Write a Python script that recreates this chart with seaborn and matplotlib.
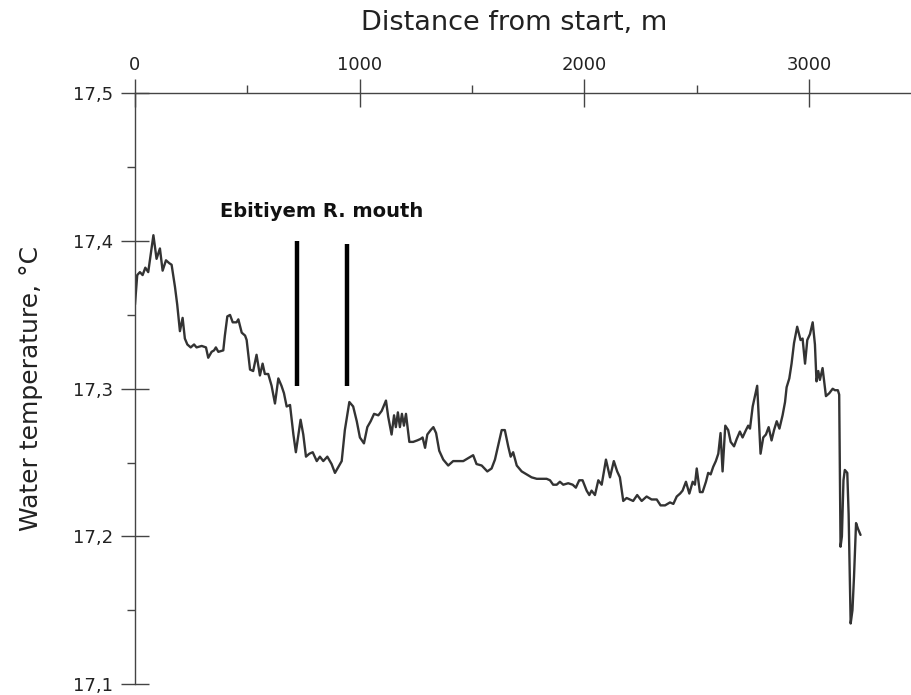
import numpy as np
import pandas as pd
import matplotlib
matplotlib.use("Agg")
import matplotlib.pyplot as plt
from matplotlib.ticker import MultipleLocator, FuncFormatter
import seaborn as sns

# Water temperature along the survey track
distance_m = [
    0, 10, 22, 34, 46, 59, 82, 96, 111, 123, 138, 153, 163, 178, 188, 200, 212, 222, 233, 248,
    263, 274, 297, 316, 326, 341, 352, 360, 371, 393, 400, 411, 423, 435, 452, 460, 475, 490, 497, 512,
    526, 541, 556, 568, 578, 593, 608, 623, 638, 652, 663, 675, 690, 705, 716, 737, 749, 761, 776, 791,
    809, 823, 838, 856, 875, 890, 905, 920, 934, 954, 971, 987, 1001, 1019, 1034, 1049, 1064, 1083, 1098, 1117,
    1127, 1142, 1153, 1161, 1170, 1179, 1188, 1197, 1206, 1221, 1238, 1256, 1271, 1280, 1291, 1301, 1316, 1328, 1340, 1354,
    1372, 1394, 1416, 1439, 1461, 1483, 1505, 1520, 1543, 1568, 1587, 1602, 1617, 1632, 1646, 1661, 1672, 1683, 1699, 1721,
    1743, 1765, 1788, 1810, 1832, 1847, 1861, 1877, 1891, 1906, 1928, 1948, 1962, 1977, 1992, 2010, 2022, 2032, 2047, 2062,
    2077, 2096, 2114, 2131, 2146, 2158, 2173, 2188, 2203, 2217, 2235, 2255, 2277, 2299, 2322, 2339, 2359, 2381, 2396, 2411,
    2426, 2437, 2452, 2467, 2482, 2492, 2500, 2514, 2526, 2541, 2551, 2562, 2573, 2585, 2596, 2606, 2615, 2627, 2640, 2651,
    2666, 2678, 2692, 2704, 2719, 2729, 2737, 2749, 2759, 2769, 2784, 2796, 2808, 2820, 2833, 2844, 2856, 2868, 2882, 2893,
    2900, 2912, 2922, 2933, 2947, 2962, 2971, 2982, 2992, 3004, 3016, 3026, 3033, 3041, 3048, 3060, 3075, 3090, 3105, 3115,
    3128, 3134, 3140, 3146, 3153, 3159, 3170, 3176, 3185, 3193, 3200, 3209, 3218, 3229,
]
temperature_c = [
    17.357, 17.377, 17.379, 17.377, 17.382, 17.379, 17.404, 17.388, 17.395, 17.380, 17.387, 17.385, 17.384, 17.369, 17.357, 17.339, 17.348, 17.334, 17.330, 17.328,
    17.330, 17.328, 17.329, 17.328, 17.321, 17.325, 17.326, 17.328, 17.325, 17.326, 17.336, 17.349, 17.350, 17.345, 17.345, 17.347, 17.338, 17.336, 17.333, 17.313,
    17.312, 17.323, 17.309, 17.317, 17.310, 17.310, 17.302, 17.290, 17.307, 17.302, 17.297, 17.288, 17.289, 17.269, 17.257, 17.279, 17.269, 17.254, 17.256, 17.257,
    17.251, 17.254, 17.251, 17.254, 17.249, 17.243, 17.247, 17.251, 17.272, 17.291, 17.288, 17.278, 17.267, 17.263, 17.274, 17.278, 17.283, 17.282, 17.285, 17.292,
    17.281, 17.269, 17.282, 17.274, 17.284, 17.274, 17.283, 17.275, 17.283, 17.264, 17.264, 17.265, 17.266, 17.267, 17.260, 17.269, 17.272, 17.274, 17.270, 17.258,
    17.252, 17.248, 17.251, 17.251, 17.251, 17.253, 17.255, 17.249, 17.248, 17.244, 17.246, 17.252, 17.262, 17.272, 17.272, 17.261, 17.254, 17.257, 17.248, 17.244,
    17.242, 17.240, 17.239, 17.239, 17.239, 17.238, 17.235, 17.235, 17.237, 17.235, 17.236, 17.235, 17.233, 17.238, 17.238, 17.231, 17.228, 17.231, 17.228, 17.238,
    17.235, 17.252, 17.240, 17.251, 17.244, 17.240, 17.224, 17.226, 17.225, 17.224, 17.228, 17.224, 17.227, 17.225, 17.225, 17.221, 17.221, 17.223, 17.222, 17.227,
    17.229, 17.231, 17.237, 17.229, 17.237, 17.235, 17.246, 17.230, 17.230, 17.237, 17.243, 17.242, 17.247, 17.251, 17.256, 17.270, 17.244, 17.275, 17.272, 17.264,
    17.261, 17.266, 17.271, 17.267, 17.272, 17.275, 17.273, 17.288, 17.295, 17.302, 17.256, 17.267, 17.269, 17.274, 17.265, 17.272, 17.278, 17.273, 17.282, 17.291,
    17.301, 17.307, 17.317, 17.331, 17.342, 17.333, 17.334, 17.317, 17.333, 17.337, 17.345, 17.330, 17.305, 17.312, 17.306, 17.314, 17.295, 17.297, 17.300, 17.299,
    17.299, 17.296, 17.193, 17.200, 17.238, 17.245, 17.243, 17.215, 17.141, 17.150, 17.173, 17.209, 17.205, 17.201,
]

# River mouth markers: distance and temperature span of each bar
mouth_x = [720, 945]
mouth_y0 = [17.302, 17.302]
mouth_y1 = [17.400, 17.398]
mouth_label = "Ebitiyem R. mouth"

y_ticks = [17.1, 17.2, 17.3, 17.4, 17.5]
x_ticks = [0, 1000, 2000, 3000]

sns.set_theme(style="white")
plt.rcParams["font.family"] = ["DejaVu Sans"]

df = pd.DataFrame({"distance": distance_m, "temperature": temperature_c})

fig = plt.figure(figsize=(9.12, 6.95), dpi=100)
ax = fig.add_axes([0.148, 0.0158, 0.852, 0.8497])

sns.lineplot(data=df, x="distance", y="temperature", ax=ax, color="#333333",
             linewidth=1.7, estimator=None, sort=False)

ax.vlines(mouth_x, mouth_y0, mouth_y1, colors="black", linewidth=3.2)
ax.text(np.mean(mouth_x), 17.420, mouth_label, ha="center", va="center",
        fontsize=14, fontweight="bold", color="#111111")

ax.set_xlim(0, 3458)
ax.set_ylim(17.1, 17.5)

for side in ["right", "bottom"]:
    ax.spines[side].set_visible(False)
for side in ["left", "top"]:
    ax.spines[side].set_color("#444444")
    ax.spines[side].set_linewidth(1.0)

ax.xaxis.set_ticks_position("top")
ax.xaxis.set_label_position("top")
ax.set_xticks(x_ticks)
ax.set_yticks(y_ticks)
ax.xaxis.set_minor_locator(MultipleLocator(500))
ax.yaxis.set_minor_locator(MultipleLocator(0.05))
ax.yaxis.set_major_formatter(FuncFormatter(lambda v, p: f"{v:.1f}".replace(".", ",")))

ax.tick_params(which="both", top=True, left=True, bottom=False, right=False,
               labeltop=True, labelleft=True, labelbottom=False, labelright=False)
ax.tick_params(axis="both", which="major", direction="inout", length=20, width=1.0,
               color="#444444", labelsize=13, labelcolor="#222222")
ax.tick_params(axis="x", which="major", pad=4)
ax.tick_params(axis="y", which="major", pad=6)
ax.tick_params(axis="both", which="minor", direction="out", length=6, width=1.0,
               color="#444444")

ax.set_xlabel("Distance from start, m", fontsize=19.5, color="#222222", labelpad=18.5)
ax.xaxis.label.set_x(0.488)
ax.set_ylabel("Water temperature, °C", fontsize=18, color="#222222", labelpad=21)
ax.grid(False)

fig.savefig("out.png", dpi=100)
